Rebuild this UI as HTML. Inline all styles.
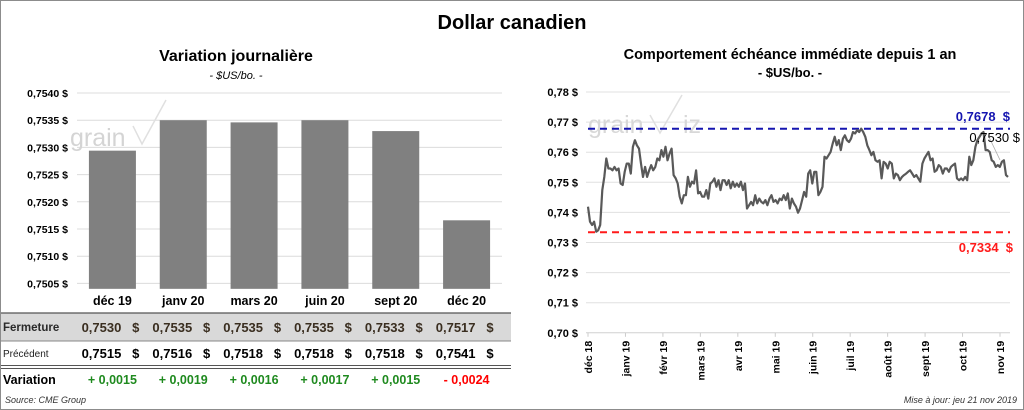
<!DOCTYPE html>
<html><head><meta charset="utf-8"><style>
body{margin:0;background:#fff}
svg{display:block;font-family:"Liberation Sans",sans-serif}
.pre{white-space:pre}
</style></head><body>
<svg width="1024" height="410" viewBox="0 0 1024 410">
<rect x="0.5" y="0.5" width="1023" height="409" fill="#fff" stroke="#8c8c8c"/>
<text x="512" y="29" text-anchor="middle" font-size="20" font-weight="bold">Dollar canadien</text>
<text x="236" y="61" text-anchor="middle" font-size="16" font-weight="bold">Variation  journalière</text>
<text x="236" y="79" text-anchor="middle" font-size="11" font-style="italic">- $US/bo. -</text>
<text x="790" y="59" text-anchor="middle" font-size="14.5" font-weight="bold">Comportement échéance immédiate depuis 1 an</text>
<text x="790" y="77" text-anchor="middle" font-size="13" font-weight="bold">- $US/bo. -</text>
<g id="left"></g>
<g id="table"></g>
<g id="right"></g>
<text x="5" y="403" font-size="9" font-style="italic" fill="#333">Source: CME Group</text>
<text x="1017" y="403" text-anchor="end" font-size="9" font-style="italic" fill="#333">Mise à jour: jeu 21 nov 2019</text>
</svg>
<script>
const NS="http://www.w3.org/2000/svg";
const barCats=["déc 19","janv 20","mars 20","juin 20","sept 20","déc 20"];
const barValues=[0.75294,0.7535,0.75346,0.7535,0.7533,0.75166];
const barTicks=[0.7505,0.7510,0.7515,0.7520,0.7525,0.7530,0.7535,0.7540];
const closeVals=["0,7530","0,7535","0,7535","0,7535","0,7533","0,7517"];
const prevVals=["0,7515","0,7516","0,7518","0,7518","0,7518","0,7541"];
const varVals=["+ 0,0015","+ 0,0019","+ 0,0016","+ 0,0017","+ 0,0015","- 0,0024"];
const lineMonths=["déc 18","janv 19","févr 19","mars 19","avr 19","mai 19","juin 19","juil 19","août 19","sept 19","oct 19","nov 19"];
const lineTicks=[0.70,0.71,0.72,0.73,0.74,0.75,0.76,0.77,0.78];
const highVal=0.7678, lowVal=0.7334, lastVal=0.7530;
const lineValues=[0.7419,0.7369,0.7358,0.7369,0.7336,0.7341,0.7358,0.7474,0.7518,0.7579,0.7546,0.7546,0.7540,0.7551,0.7540,0.7546,0.7496,0.7491,0.7535,0.7562,0.7562,0.7529,0.7618,0.7640,0.7623,0.7612,0.7562,0.7518,0.7551,0.7518,0.7540,0.7557,0.7540,0.7551,0.7579,0.7573,0.7607,0.7585,0.7618,0.7573,0.7596,0.7612,0.7524,0.7513,0.7496,0.7452,0.7430,0.7457,0.7457,0.7518,0.7485,0.7502,0.7496,0.7540,0.7463,0.7468,0.7452,0.7452,0.7474,0.7446,0.7496,0.7502,0.7513,0.7485,0.7507,0.7474,0.7507,0.7507,0.7491,0.7507,0.7480,0.7502,0.7485,0.7496,0.7485,0.7502,0.7474,0.7496,0.7413,0.7424,0.7435,0.7424,0.7457,0.7430,0.7446,0.7435,0.7430,0.7441,0.7424,0.7446,0.7457,0.7435,0.7441,0.7430,0.7446,0.7441,0.7457,0.7441,0.7463,0.7413,0.7446,0.7430,0.7419,0.7399,0.7413,0.7441,0.7468,0.7452,0.7529,0.7540,0.7496,0.7535,0.7535,0.7457,0.7468,0.7485,0.7585,0.7579,0.7590,0.7601,0.7629,0.7651,0.7623,0.7640,0.7607,0.7645,0.7656,0.7640,0.7634,0.7645,0.7667,0.7662,0.7673,0.7667,0.7678,0.7667,0.7651,0.7623,0.7607,0.7590,0.7601,0.7573,0.7568,0.7573,0.7513,0.7568,0.7562,0.7546,0.7568,0.7562,0.7513,0.7529,0.7524,0.7507,0.7518,0.7524,0.7529,0.7535,0.7540,0.7529,0.7518,0.7524,0.7513,0.7502,0.7562,0.7579,0.7590,0.7601,0.7573,0.7579,0.7535,0.7540,0.7557,0.7551,0.7529,0.7546,0.7546,0.7535,0.7551,0.7557,0.7562,0.7513,0.7507,0.7513,0.7507,0.7518,0.7507,0.7585,0.7557,0.7573,0.7618,0.7640,0.7651,0.7662,0.7667,0.7607,0.7607,0.7601,0.7573,0.7568,0.7551,0.7557,0.7551,0.7568,0.7573,0.7524,0.7518];

function el(tag,attrs,parent,txt){const e=document.createElementNS(NS,tag);for(const k in attrs)e.setAttribute(k,attrs[k]);if(txt!==undefined)e.textContent=txt;parent.appendChild(e);return e;}
const fmt4=v=>v.toFixed(4).replace('.',',')+' $';
const fmt2=v=>v.toFixed(2).replace('.',',')+' $';

// left bar chart
const L=document.getElementById('left');
const lx0=77,lx1=502,ly=v=>93+(0.7540-v)/0.0005*27.2;
const step=(lx1-lx0)/barCats.length, bw=47;
barTicks.forEach(t=>{
  const g=el('line',{x1:lx0,x2:lx1,y1:ly(t),y2:ly(t),stroke:'#dcdcdc','stroke-width':1},L);
  
  
  const tx=el('text',{x:68,y:ly(t)+4,'text-anchor':'end','font-size':10.5,'font-weight':'bold'},L,fmt4(t));
  
  
});
const wm1=el('text',{x:70,y:146,'font-size':25,fill:'#d4d4d4'},L,'grain');


el('path',{d:'M133 126 L142 144 L166 100',stroke:'#e0e0e0',fill:'none','stroke-width':1.5},L);
const bottomV=0.7504;
barValues.forEach((v,i)=>{
  const cx=lx0+step*(i+0.5);
  const r=el('rect',{x:cx-bw/2,y:ly(v),width:bw,height:ly(bottomV)-ly(v),fill:'#808080'},L);
  
  
});
// table
const T=document.getElementById('table');
el('rect',{x:1,y:313,width:510,height:28,fill:'#d9d9d9'},T);
el('line',{x1:1,x2:511,y1:313,y2:313,stroke:'#555','stroke-width':1.2},T);
el('line',{x1:1,x2:511,y1:341,y2:341,stroke:'#888','stroke-width':1},T);
el('line',{x1:1,x2:511,y1:365.5,y2:365.5,stroke:'#555','stroke-width':1},T);
el('line',{x1:1,x2:511,y1:368.5,y2:368.5,stroke:'#555','stroke-width':1},T);
const rl1=el('text',{x:3,y:331,'font-size':11.5,'font-weight':'bold',fill:'#2a2a2a'},T,'Fermeture');


const rl2=el('text',{x:3,y:357,'font-size':10,fill:'#222'},T,'Précédent');


const rl3=el('text',{x:3,y:384,'font-size':12.5,'font-weight':'bold'},T,'Variation');


barCats.forEach((c,i)=>{
  const cx=lx0+step*(i+0.5);
  const h=el('text',{x:cx,y:305,'text-anchor':'middle','font-size':12.5,'font-weight':'bold'},T,c);
  
  
  const a=el('text',{x:cx+27,y:332,'text-anchor':'end','font-size':13,'font-weight':'bold',fill:'#3a2e20',class:'pre'},T,closeVals[i]+'   $');
  
  
  const b=el('text',{x:cx+27,y:358,'text-anchor':'end','font-size':13,'font-weight':'bold',class:'pre'},T,prevVals[i]+'   $');
  
  
  const neg=varVals[i].trim()[0]==='-';
  const d=el('text',{x:cx,y:384,'text-anchor':'middle','font-size':12.5,'font-weight':'bold',fill:neg?'#ff0000':'#1f8a1f'},T,varVals[i]);
  
  
});

// right line chart
const R=document.getElementById('right');
const rx0=588,rx1=1008,ry=v=>92+(0.78-v)/0.01*30.1;
lineTicks.forEach(t=>{
  const g=el('line',{x1:rx0-2,x2:1010,y1:ry(t),y2:ry(t),stroke:t===0.70?'#d0d0d0':'#e0e0e0','stroke-width':1},R);
  
  
  const tx=el('text',{x:578,y:ry(t)+4,'text-anchor':'end','font-size':11,'font-weight':'bold'},R,fmt2(t));
  
  
});
const mstep=(1000-rx0)/(lineMonths.length-1);
lineMonths.forEach((m,i)=>{
  const x=rx0+mstep*i;
  el('line',{x1:x,x2:x,y1:ry(0.70),y2:ry(0.70)+4,stroke:'#ccc'},R);
  const tx=el('text',{x:0,y:0,'font-size':10.5,'font-weight':'bold',transform:`translate(${x+4},${ry(0.70)+8}) rotate(-90)`,'text-anchor':'end'},R,m);
  
  
});
const wm2=el('text',{x:588,y:133,'font-size':25,fill:'#d8d8d8'},R,'grain');


el('path',{d:'M650 115 L660 133 L682 95',stroke:'#e0e0e0',fill:'none','stroke-width':1.5},R);
el('text',{x:683,y:133,'font-size':25,fill:'#d8d8d8'},R,'iz');
const hl=el('line',{x1:rx0,x2:1010,y1:ry(highVal),y2:ry(highVal),stroke:'#1515b0','stroke-width':2,'stroke-dasharray':'7,5'},R);


const ll=el('line',{x1:rx0,x2:1010,y1:ry(lowVal),y2:ry(lowVal),stroke:'#ff1a1a','stroke-width':2,'stroke-dasharray':'7,5'},R);


const n=lineValues.length;
const px=i=>rx0+(rx1-rx0)*i/(n-1);
const pts=lineValues.map((v,i)=>px(i).toFixed(1)+','+ry(v).toFixed(1)).join(' ');
const pl=el('polyline',{points:pts,fill:'none',stroke:'#595959','stroke-width':2.2,'stroke-linejoin':'round'},R);


el('line',{x1:989,y1:137,x2:1000,y2:160,stroke:'#aaa','stroke-width':0.8},R);
const t1=el('text',{x:1010,y:121,'text-anchor':'end','font-size':13,'font-weight':'bold',fill:'#1515b0',class:'pre'},R,fmt4(highVal).replace(' $','  $'));


const t2=el('text',{x:1020,y:142,'text-anchor':'end','font-size':13,fill:'#000'},R,fmt4(lastVal));


const t3=el('text',{x:1013,y:252,'text-anchor':'end','font-size':13,'font-weight':'bold',fill:'#ff1a1a',class:'pre'},R,fmt4(lowVal).replace(' $','  $'));


</script>
</body></html>
